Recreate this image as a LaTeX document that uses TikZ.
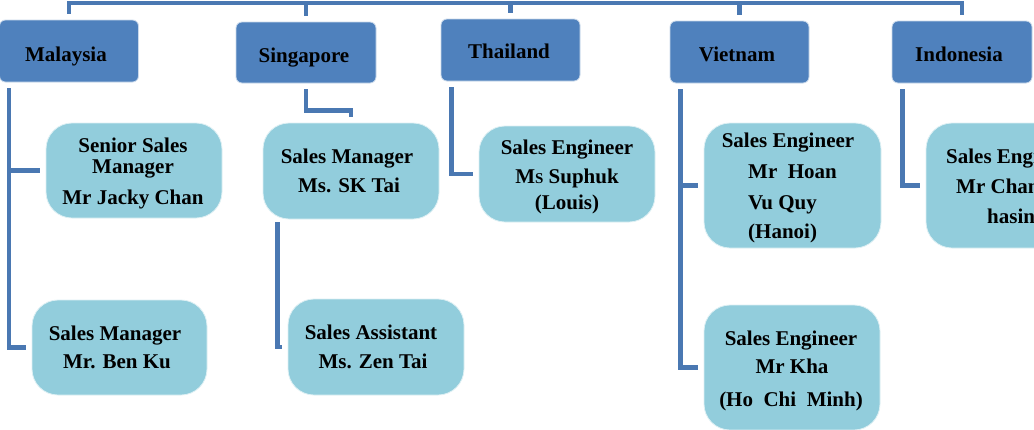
\documentclass[tikz,border=0pt]{standalone}
\usepackage{fontspec}
\setmainfont{Liberation Serif}
\definecolor{boxc}{HTML}{4F81BD}
\definecolor{childc}{HTML}{92CDDC}
\definecolor{connc}{HTML}{4A78B2}
\begin{document}
\begin{tikzpicture}[x=1pt,y=-1pt,
  conn/.style={draw=connc, line width=4.5pt},
  country/.style={fill=boxc, draw=white!70!boxc, line width=0.8pt, rounded corners=6pt, inner sep=0pt},
  person/.style={fill=childc, draw=white!70!childc, line width=0.8pt, rounded corners=26pt, inner sep=0pt},
  txt/.style={font=\fontsize{21}{24}\selectfont\bfseries, inner sep=0pt, anchor=base},
  txtl/.style={txt, anchor=base west}]
\useasboundingbox (0,0) rectangle (1034,429);
\clip (0,0) rectangle (1034,429);
\fill[white] (0,0) rectangle (1034,429);
\coordinate (top) at (597,3);

% country boxes
\node[country, minimum width=139pt, minimum height=62pt] (mal) at (69,51) {};
\node[country, minimum width=140pt, minimum height=61pt] (sin) at (306,52.5) {};
\node[country, minimum width=139pt, minimum height=62pt] (tha) at (510.5,50) {};
\node[country, minimum width=139pt, minimum height=62pt] (vie) at (739.5,52) {};
\node[country, minimum width=140pt, minimum height=62pt] (ind) at (962,52) {};
\node[txt] (malt) at (66,61) {Malaysia};
\node[txt] (sint) at (304,62) {Singapore};
\node[txt] (that) at (509,58) {Thailand};
\node[txt] (viet) at (737,61) {Vietnam};
\node[txt] (indt) at (959,61) {Indonesia};

% person boxes
\node[person, minimum width=176pt, minimum height=95pt] (sen) at (134,170.5) {};
\node[person, minimum width=175pt, minimum height=95pt] (ben) at (119.5,347.5) {};
\node[person, minimum width=176pt, minimum height=96pt] (sk) at (351,171) {};
\node[person, minimum width=176pt, minimum height=96pt] (zen) at (376,347) {};
\node[person, minimum width=176pt, minimum height=96pt] (tc) at (567,174) {};
\node[person, minimum width=177pt, minimum height=125pt] (v1) at (792.5,185.5) {};
\node[person, minimum width=176pt, minimum height=125pt] (v2) at (792,367.5) {};
\node[person, minimum width=176pt, minimum height=125pt] (ic) at (1014,185.5) {};

\node[txt] (sen1) at (133,152) {Senior Sales};
\node[txt] (sen2) at (133,173) {Manager};
\node[txt] (sen3) at (133,204) {Mr Jacky Chan};
\node[txt] (sk1) at (347,163) {Sales Manager};
\node[txt] (sk2) at (349,192) {Ms. SK Tai};
\node[txt] (ben1) at (115,340) {Sales Manager};
\node[txt] (ben2) at (117,368) {Mr. Ben Ku};
\node[txt] (zen1) at (371,339) {Sales Assistant};
\node[txt] (zen2) at (373,368) {Ms. Zen Tai};
\node[txt] (tc1) at (567,154) {Sales Engineer};
\node[txt] (tc2) at (567,183) {M{\fontsize{15}{18}\selectfont S} Suphuk};
\node[txt] (tc3) at (567,209) {(Louis)};
\node[txt] (v11) at (788,147) {Sales Engineer};
\node[txtl] (v12) at (748,178) {Mr\ \ Hoan};
\node[txtl] (v13) at (748,209) {Vu Quy};
\node[txtl] (v14) at (748,238) {(Hanoi)};
\node[txt] (v21) at (791,345) {Sales Engineer};
\node[txt] (v22) at (792,373) {Mr Kha};
\node[txt] (v23) at (791,406) {(Ho\ \ Chi\ \ Minh)};
\node[txtl] (ic1) at (946,163) {Sales Engineer};
\node[txtl] (ic2) at (956,193) {Mr Chan};
\node[txtl] (ic3) at (987,223) {hasin};

% top bar
\draw[conn] ([yshift=6pt]mal.north) -- (mal.north |- top) -- (ind.north |- top) -- ([yshift=6pt]ind.north);
\draw[conn] ([yshift=6pt]sin.north) -- (sin.north |- top);
\draw[conn] ([yshift=6pt]tha.north) -- (tha.north |- top);
\draw[conn] ([yshift=6pt]vie.north) -- (vie.north |- top);

% Malaysia
\draw[conn] ([xshift=10pt,yshift=-6pt]mal.south west) |- ([xshift=-6pt]sen.west);
\draw[conn] ([xshift=10pt,yshift=-6pt]mal.south west) |- ([xshift=-6pt]ben.west);
% Singapore
\draw[conn] ([yshift=-6pt]sin.south) -- ++(0,21) -| ([yshift=6pt]sk.north);
\draw[conn] ([xshift=15pt,yshift=-3pt]sk.south west) |- ([xshift=-6pt]zen.west);
% Thailand
\draw[conn] ([xshift=11pt,yshift=-6pt]tha.south west) |- ([xshift=-6pt]tc.west);
% Vietnam
\draw[conn] ([xshift=11pt,yshift=-6pt]vie.south west) |- ([xshift=-6pt]v1.west);
\draw[conn] ([xshift=11pt,yshift=-6pt]vie.south west) |- ([xshift=-6pt]v2.west);
% Indonesia
\draw[conn] ([xshift=11pt,yshift=-6pt]ind.south west) |- ([xshift=-6pt]ic.west);
\end{tikzpicture}
\end{document}
